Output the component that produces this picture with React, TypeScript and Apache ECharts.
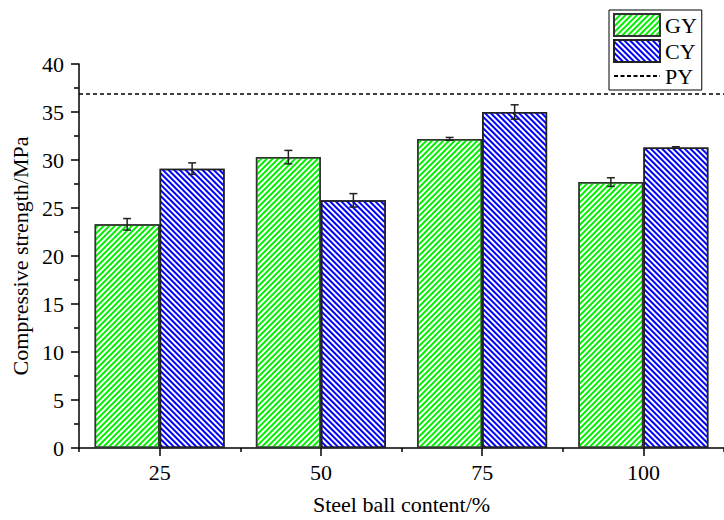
import React, { useEffect, useRef } from "react";
import * as echarts from "echarts";

const categories = ["25", "50", "75", "100"];
const gyValues = [23.3, 30.3, 32.2, 27.7];
const gyErrors = [0.6, 0.7, 0.15, 0.45];
const cyValues = [29.1, 25.8, 35.0, 31.3];
const cyErrors = [0.6, 0.7, 0.75, 0.08];
const pyValue = 36.9;
const yTicks = { min: 0, max: 40, interval: 5 };

const FONT = "Liberation Serif";
const BAR_W = 65;

export default function App() {
  const ref = useRef<HTMLDivElement>(null);
  useEffect(() => {
    if (!ref.current) return;
    const chart = echarts.init(ref.current, undefined, { renderer: "svg" });

    const errData: number[][] = [];
    gyValues.forEach((v, i) => errData.push([i, v, gyErrors[i], -1]));
    cyValues.forEach((v, i) => errData.push([i, v, cyErrors[i], 1]));

    const txt = { fontFamily: FONT, fontSize: 22, color: "#000" };

    const option: any = {
      animation: false,
      backgroundColor: "#fff",
      textStyle: { fontFamily: FONT },
      grid: { left: 79, right: -10, top: 64, bottom: 72 },
      legend: {
        data: [
          { name: "GY", icon: "rect" },
          { name: "CY", icon: "rect" },
          { name: "PY", itemStyle: { opacity: 0 } },
        ],
        orient: "vertical",
        left: 609,
        top: 10,
        itemWidth: 46,
        itemHeight: 22,
        itemGap: 2,
        padding: [3, 5, 3, 4],
        borderColor: "#000",
        borderWidth: 1,
        backgroundColor: "#fff",
        textStyle: { ...txt },
        selectedMode: false,
      },
      xAxis: [
        {
          type: "category",
          data: categories,
          position: "bottom",
          name: "Steel ball content/%",
          nameLocation: "middle",
          nameGap: 45,
          nameTextStyle: { ...txt },
          axisLine: { show: true, lineStyle: { color: "#000", width: 1.5 } },
          axisTick: { show: true, alignWithLabel: true, length: 8, lineStyle: { color: "#000", width: 1.5 } },
          axisLabel: { ...txt, margin: 13 },
          splitLine: { show: false },
        },
        {
          type: "category",
          data: categories,
          position: "bottom",
          axisLine: { show: false },
          axisTick: { show: true, alignWithLabel: false, length: 4, lineStyle: { color: "#000", width: 1.5 } },
          axisLabel: { show: false },
          splitLine: { show: false },
        },
      ],
      yAxis: {
        type: "value",
        min: yTicks.min,
        max: yTicks.max,
        interval: yTicks.interval,
        name: "Compressive strength/MPa",
        nameLocation: "middle",
        nameGap: 40,
        nameTextStyle: { ...txt },
        axisLine: { show: true, lineStyle: { color: "#000", width: 1.5 } },
        axisTick: { show: true, length: 8, lineStyle: { color: "#000", width: 1.5 } },
        minorTick: { show: true, splitNumber: 2, length: 5, lineStyle: { color: "#000", width: 1.5 } },
        axisLabel: { ...txt, margin: 15 },
        splitLine: { show: false },
      },
      series: [
        {
          name: "GY",
          type: "bar",
          data: gyValues,
          barWidth: BAR_W,
          barGap: "0%",
          itemStyle: {
            color: "#ffffff",
            borderColor: "#333",
            borderWidth: 1.5,
            decal: {
              symbol: "rect",
              symbolSize: 1,
              color: "#00f000",
              dashArrayX: [1, 0],
              dashArrayY: [1.7, 1.4],
              rotation: -Math.PI / 4,
            },
          },
        },
        {
          name: "CY",
          type: "bar",
          data: cyValues,
          barWidth: BAR_W,
          barGap: "0%",
          itemStyle: {
            color: "#ffffff",
            borderColor: "#222",
            borderWidth: 1.5,
            decal: {
              symbol: "rect",
              symbolSize: 1,
              color: "#0000ff",
              dashArrayX: [1, 0],
              dashArrayY: [1.7, 1.4],
              rotation: Math.PI / 4,
            },
          },
        },
        {
          name: "PY",
          type: "line",
          data: [],
          symbol: "none",
          showSymbol: false,
          lineStyle: { color: "#000", width: 1.5, type: [4, 2.5] },
          itemStyle: { color: "#000" },
          markLine: {
            silent: true,
            symbol: "none",
            label: { show: false },
            lineStyle: { color: "#000", width: 1.5, type: [4, 3] },
            data: [{ yAxis: pyValue }],
          },
        },
        {
          name: "err",
          type: "custom",
          data: errData,
          encode: { x: 0, y: 1 },
          z: 10,
          renderItem: (params: any, api: any) => {
            const idx = api.value(0);
            const v = api.value(1);
            const e = api.value(2);
            const side = api.value(3);
            const top = api.coord([idx, v + e]);
            const bot = api.coord([idx, v - e]);
            const x = top[0] + side * (BAR_W / 2);
            const hw = 4;
            const style = { stroke: "#222", lineWidth: 1.5, fill: "none" };
            return {
              type: "group",
              children: [
                { type: "line", shape: { x1: x, y1: top[1], x2: x, y2: bot[1] }, style },
                { type: "line", shape: { x1: x - hw, y1: top[1], x2: x + hw, y2: top[1] }, style },
                { type: "line", shape: { x1: x - hw, y1: bot[1], x2: x + hw, y2: bot[1] }, style },
              ],
            };
          },
        },
      ],
    };
    chart.setOption(option);
    return () => chart.dispose();
  }, []);
  return (
    <div
      ref={ref}
      style={{ position: "fixed", left: 0, top: 0, width: 724, height: 520 }}
    />
  );
}
